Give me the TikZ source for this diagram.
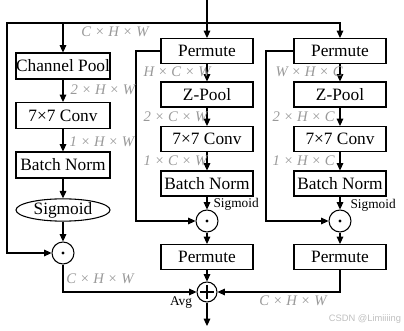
\documentclass[tikz,border=0pt]{standalone}
\usepackage{fontspec}
\setmainfont{Liberation Serif}
\setsansfont{Liberation Sans}
\usetikzlibrary{arrows.meta,shapes.geometric}
\begin{document}
\begin{tikzpicture}[x=0.75pt,y=-0.75pt,
  line width=0.8pt,
  arr/.style={-{Triangle[length=5.5pt,width=5pt]}},
  box/.style={draw,minimum width=69pt,minimum height=18.75pt,inner sep=0pt,font=\fontsize{13}{15}\selectfont},
  lbox/.style={box,minimum width=70.5pt,minimum height=19.5pt},
  opc/.style={draw,circle,minimum size=16.5pt,inner sep=0pt},
  dim/.style={text=black!40,font=\fontsize{11}{13}\selectfont\itshape,inner sep=0pt},
  small/.style={font=\fontsize{10}{12}\selectfont,inner sep=0pt}]
\useasboundingbox (0,0) rectangle (404,331);
\coordinate (in) at (207,0);
\coordinate (split) at (207,23);
\coordinate (lc) at (7,23);
% left branch
\node[lbox] (cp) at (63,66) {Channel Pool};
\node[lbox] (c1) at (63,115.5) {7×7 Conv};
\node[lbox] (b1) at (63,165) {Batch Norm};
\node[draw,ellipse,minimum width=70.5pt,minimum height=15pt,inner sep=0pt,font=\fontsize{13}{15}\selectfont] (s1) at (63,210) {Sigmoid};
\node[opc] (d1) at (63,253) {};
% middle branch
\node[box] (p2) at (207,51) {Permute};
\node[box] (z2) at (207,94.5) {Z-Pool};
\node[box] (c2) at (207,139) {7×7 Conv};
\node[box] (b2) at (207,183.5) {Batch Norm};
\node[opc] (d2) at (207,221) {};
\node[box] (q2) at (207,257) {Permute};
\node[opc,minimum size=15pt] (pl) at (207,292) {};
\coordinate (out) at (207,326);
% right branch
\node[box] (p3) at (340,51) {Permute};
\node[box] (z3) at (340,94.5) {Z-Pool};
\node[box] (c3) at (340,139) {7×7 Conv};
\node[box] (b3) at (340,183.5) {Batch Norm};
\node[opc] (d3) at (340,221) {};
\node[box] (q3) at (340,257) {Permute};
\coordinate (m2) at (136,51);
\coordinate (m3) at (266,51);
% symbols inside circles
\foreach \c in {d1,d2,d3} \fill (\c) circle[radius=1.3pt];
\draw (pl.center) ++(-7,0) -- ++(14,0);
\draw (pl.center) ++(0,-7) -- ++(0,14);
% connectors
\draw[arr] (in) -- (p2);
\draw[arr] (split) -| (cp.north);
\draw[arr] (split) -| (p3.north);
\draw[arr] (split) -- (lc) |- (d1.west);
\draw[arr] (cp) -- (c1);
\draw[arr] (c1) -- (b1);
\draw[arr] (b1) -- (s1);
\draw[arr] (s1) -- (d1);
\draw[arr] (p2) -- (z2);
\draw[arr] (z2) -- (c2);
\draw[arr] (c2) -- (b2);
\draw[arr] (b2) -- (d2);
\draw[arr] (d2) -- (q2);
\draw[arr] (q2) -- (pl);
\draw[arr] (p3) -- (z3);
\draw[arr] (z3) -- (c3);
\draw[arr] (c3) -- (b3);
\draw[arr] (b3) -- (d3);
\draw[arr] (d3) -- (q3);
\draw[arr] (p2.west) -- (m2) |- (d2.west);
\draw[arr] (p3.west) -- (m3) |- (d3.west);
\draw[arr] (d1.south) |- (pl.west);
\draw[arr] (q3.south) |- (pl.east);
\draw[arr] (pl) -- (out);
% dimension labels
\node[dim] (t0) at (115,32) {C × H × W};
\node[dim,anchor=west] (t1) at (70,90) {2 × H × W};
\node[dim,anchor=west] (t2) at (69,142) {1 × H × W};
\node[dim,anchor=west] (t3) at (143,72) {H × C × W};
\node[dim,anchor=west] (t4) at (143,117) {2 × C × W};
\node[dim,anchor=west] (t5) at (143,161) {1 × C × W};
\node[dim,anchor=west] (t6) at (275,72) {W × H × C};
\node[dim,anchor=west] (t7) at (272,117) {2 × H × C};
\node[dim,anchor=west] (t8) at (272,161) {1 × H × C};
\node[dim] (t9) at (100,279) {C × H × W};
\node[dim] (t10) at (293,301) {C × H × W};
\node[small,anchor=west] (g2) at (213,204) {Sigmoid};
\node[small,anchor=west] (g3) at (350,205) {Sigmoid};
\node[small] (avg) at (181,303) {Avg};
\node[text=black!25,font=\sffamily\fontsize{7}{8}\selectfont,inner sep=0pt] (wm) at (365,319) {CSDN @Limiiiing};
\end{tikzpicture}
\end{document}
